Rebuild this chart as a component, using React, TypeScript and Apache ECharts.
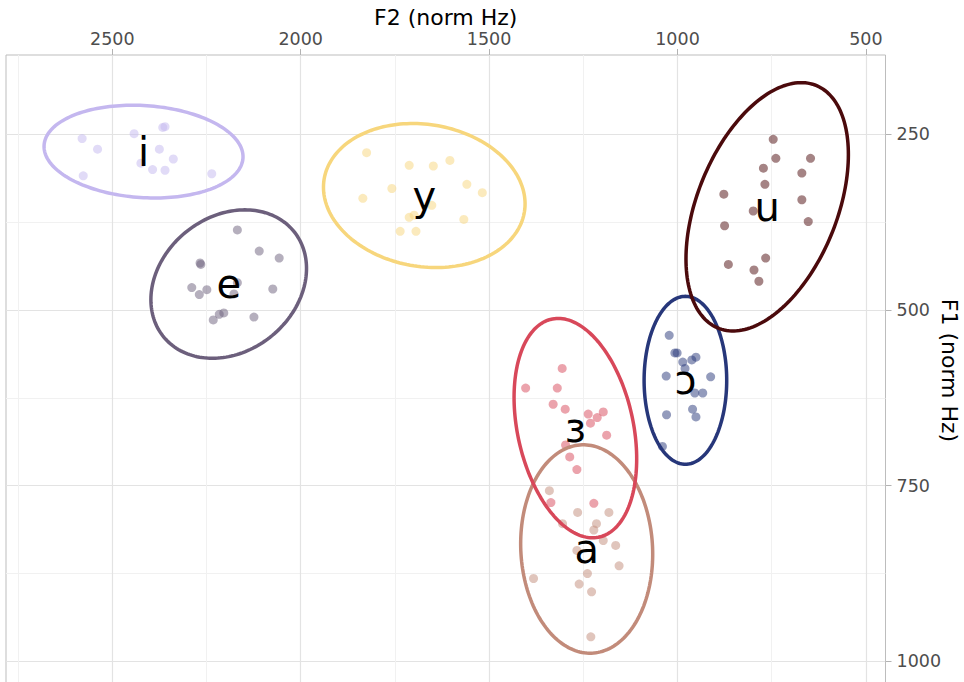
import React, { useEffect, useRef } from "react";
import * as echarts from "echarts";

// Axis extents (norm Hz) and tick positions
const f2Extent = [448, 2782];
const f1Extent = [137, 1035];
const f2Ticks = [500, 1000, 1500, 2000, 2500];
const f2MinorTicks = [750, 1250, 1750, 2250, 2750];
const f1Ticks = [250, 500, 750, 1000];
const f1MinorTicks = [375, 625, 875];

// Vowel categories and their colours
const vowels = ["i", "e", "y", "u", "ɔ", "ɜ", "a"];
const vowelColors = ["#c4b7ef", "#6c5f7c", "#f7d67c", "#4b0a0c", "#27377a", "#d8485a", "#c28b7a"];

// Individual tokens per vowel: [F2, F1]
const tokensI: [number, number][] = [
  [2580, 256], [2539, 271], [2577, 309], [2442, 249], [2366, 240], [2360, 239],
  [2375, 271], [2338, 285], [2424, 291], [2393, 300], [2360, 301], [2236, 306],
];
const tokensE: [number, number][] = [
  [2168, 386], [2110, 416], [2057, 426], [2267, 433], [2265, 435], [2289, 468],
  [2269, 478], [2249, 471], [2168, 461], [2177, 477], [2074, 470], [2232, 514],
  [2216, 506], [2204, 504], [2124, 510],
];
const tokensY: [number, number][] = [
  [1825, 276], [1712, 294], [1648, 295], [1604, 287], [1758, 327], [1835, 341],
  [1559, 321], [1518, 333], [1652, 351], [1699, 365], [1712, 368], [1567, 371],
  [1736, 388], [1694, 388],
];
const tokensU: [number, number][] = [
  [746, 257], [739, 284], [647, 284], [772, 298], [670, 305], [768, 321],
  [877, 335], [670, 343], [799, 359], [653, 374], [875, 380], [766, 426],
  [865, 435], [797, 443], [784, 459],
];
const tokensOpenO: [number, number][] = [
  [1022, 536], [1007, 561], [1001, 561], [986, 574], [980, 583], [962, 571],
  [951, 567], [1030, 594], [912, 595], [954, 618], [933, 618], [1029, 649],
  [960, 641], [951, 652], [1040, 694],
];
const tokensOpenE: [number, number][] = [
  [1306, 583], [1403, 611], [1319, 611], [1330, 634], [1298, 641], [1237, 648],
  [1213, 653], [1197, 645], [1231, 661], [1188, 678], [1297, 692], [1286, 709],
  [1267, 727], [1336, 774], [1222, 775],
];
const tokensA: [number, number][] = [
  [1340, 757], [1265, 788], [1182, 788], [1305, 804], [1215, 804], [1222, 813],
  [1197, 828], [1164, 835], [1267, 842], [1155, 864], [1382, 882], [1239, 875],
  [1261, 890], [1228, 901], [1230, 965],
];
const tokensByVowel = [tokensI, tokensE, tokensY, tokensU, tokensOpenO, tokensOpenE, tokensA];

// Ellipse per vowel: centre (F2, F1), half-extents (F2, F1) and F2/F1 correlation
const ellipseCenterF2 = [2417, 2191, 1672, 762, 979, 1271, 1241];
const ellipseCenterF1 = [274.5, 463, 337, 353, 600, 668, 840];
const ellipseRadiusF2 = [264, 206.5, 267.5, 215.5, 109.6, 162.7, 175.2];
const ellipseRadiusF1 = [66, 105.6, 102.5, 176.7, 119.5, 156.1, 148.3];
const ellipseCorr = [-0.11, 0.21, -0.115, 0.42, 0, -0.28, -0.05];

const FONT = "DejaVu Sans";
const ELLIPSE_ORDER = [0, 1, 2, 4, 3, 6, 5];

function buildOption() {
  const scatterSeries = vowels.map((v, k) => ({
    type: "scatter",
    name: v,
    xAxisIndex: 0,
    yAxisIndex: 0,
    symbol: "circle",
    symbolSize: 9,
    itemStyle: { color: vowelColors[k], opacity: 0.5 },
    data: tokensByVowel[k],
    silent: true,
    z: 2,
  }));

  const ellipseData = ELLIPSE_ORDER.map((k) => [
    ellipseCenterF2[k],
    ellipseCenterF1[k],
    ellipseRadiusF2[k],
    ellipseRadiusF1[k],
    ellipseCorr[k],
    k,
  ]);

  const ellipseSeries = {
    type: "custom",
    xAxisIndex: 0,
    yAxisIndex: 0,
    silent: true,
    z: 5,
    encode: { x: 0, y: 1 },
    data: ellipseData,
    renderItem: (_params: any, api: any) => {
      const cF2 = api.value(0);
      const cF1 = api.value(1);
      const rF2 = api.value(2);
      const rF1 = api.value(3);
      const rho = api.value(4);
      const k = api.value(5);
      const s = Math.sqrt(1 - rho * rho);
      const pts: number[][] = [];
      const n = 180;
      for (let j = 0; j < n; j++) {
        const t = (2 * Math.PI * j) / n;
        const f2 = cF2 + rF2 * Math.cos(t);
        const f1 = cF1 + rF1 * (rho * Math.cos(t) + s * Math.sin(t));
        pts.push(api.coord([f2, f1]));
      }
      const c = api.coord([cF2, cF1]);
      return {
        type: "group",
        children: [
          {
            type: "polygon",
            shape: { points: pts },
            style: { fill: "none", stroke: vowelColors[k], lineWidth: 3.5 },
          },
          {
            type: "text",
            x: c[0],
            y: c[1],
            style: {
              text: vowels[k],
              fontFamily: FONT,
              fontSize: 40,
              fill: "#000",
              align: "center",
              verticalAlign: "middle",
            },
          },
        ],
      };
    },
  };

  const tickLabel = {
    fontFamily: FONT,
    fontSize: 17.5,
    color: "#4d4d4d",
    formatter: (v: number) => String(v),
  };
  const nameStyle = { fontFamily: FONT, fontSize: 22, color: "#000" };

  return {
    animation: false,
    backgroundColor: "#ffffff",
    grid: {
      left: 6,
      right: 78.5,
      top: 55,
      bottom: -4,
      show: true,
      borderColor: "#bdbdbd",
      borderWidth: 1,
      backgroundColor: "transparent",
      outerBoundsMode: "none",
    },
    xAxis: [
      {
        type: "value",
        position: "top",
        inverse: true,
        min: f2Extent[0],
        max: f2Extent[1],
        name: "F2 (norm Hz)",
        nameLocation: "middle",
        nameGap: 27,
        nameMoveOverlap: false,
        nameTextStyle: nameStyle,
        axisLine: { show: false, onZero: false },
        axisTick: { show: true, length: 6, lineStyle: { color: "#b3b3b3" }, customValues: f2Ticks },
        axisLabel: { ...tickLabel, margin: 7, customValues: f2Ticks },
        splitLine: { show: true, lineStyle: { color: "#e3e3e3", width: 1.2 } },
      },
      {
        type: "value",
        position: "top",
        inverse: true,
        min: f2Extent[0],
        max: f2Extent[1],
        axisLine: { show: false, onZero: false },
        axisTick: { show: false, customValues: f2MinorTicks },
        axisLabel: { show: false, customValues: f2MinorTicks },
        splitLine: { show: true, lineStyle: { color: "#f1f1f1", width: 1 } },
      },
    ],
    yAxis: [
      {
        type: "value",
        position: "right",
        inverse: true,
        min: f1Extent[0],
        max: f1Extent[1],
        name: "F1 (norm Hz)",
        nameLocation: "middle",
        nameGap: 53,
        nameRotate: -90,
        nameMoveOverlap: false,
        nameTextStyle: nameStyle,
        axisLine: { show: false, onZero: false },
        axisTick: { show: true, length: 6, lineStyle: { color: "#b3b3b3" }, customValues: f1Ticks },
        axisLabel: { ...tickLabel, margin: 11, customValues: f1Ticks },
        splitLine: { show: true, lineStyle: { color: "#e3e3e3", width: 1.2 } },
      },
      {
        type: "value",
        position: "right",
        inverse: true,
        min: f1Extent[0],
        max: f1Extent[1],
        axisLine: { show: false, onZero: false },
        axisTick: { show: false, customValues: f1MinorTicks },
        axisLabel: { show: false, customValues: f1MinorTicks },
        splitLine: { show: true, lineStyle: { color: "#f1f1f1", width: 1 } },
      },
    ],
    series: [...scatterSeries, ellipseSeries],
  };
}

export default function App() {
  const ref = useRef<HTMLDivElement>(null);
  useEffect(() => {
    if (!ref.current) return;
    const chart = echarts.init(ref.current, null, { renderer: "svg" });
    chart.setOption(buildOption() as any);
    return () => chart.dispose();
  }, []);
  return (
    <div
      ref={ref}
      style={{ position: "fixed", left: 0, top: 0, width: 964, height: 682, background: "#fff" }}
    />
  );
}
